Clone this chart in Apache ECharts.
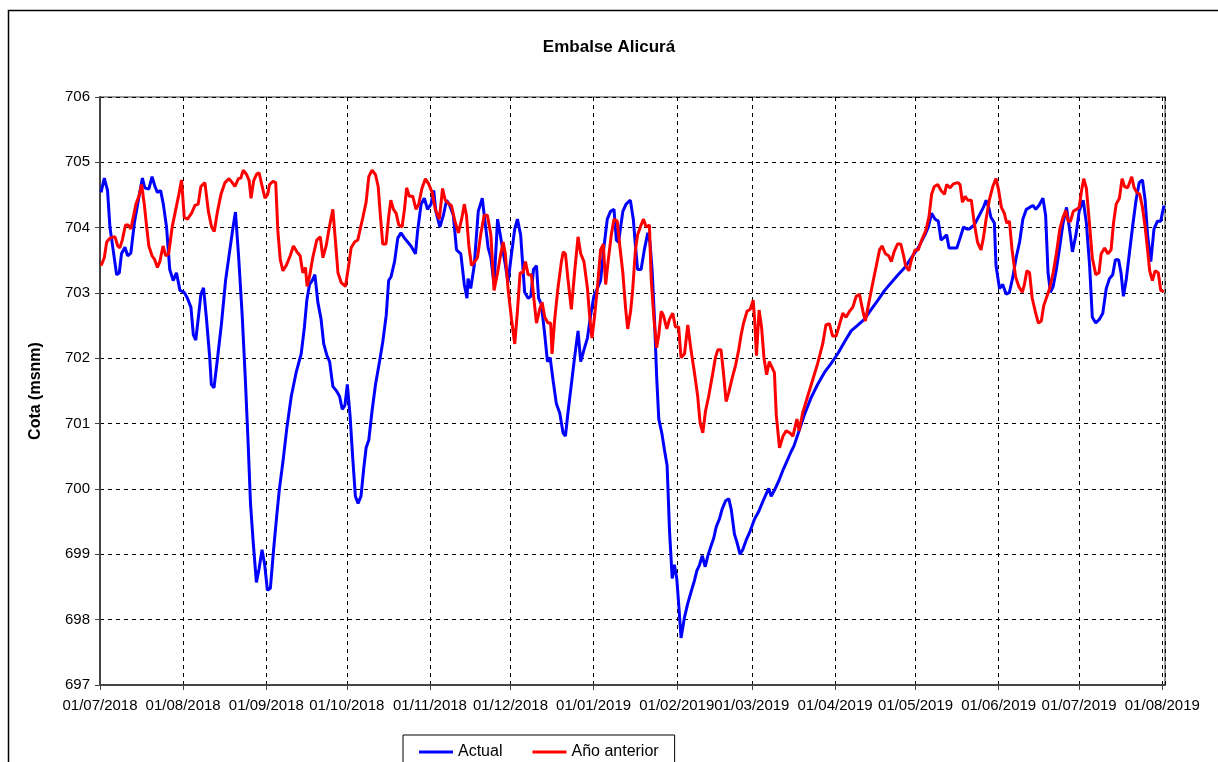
<html>
<head>
  <meta charset="utf-8">
  <title>Embalse Alicurá</title>
</head>
<body style="margin:0;">
<div id="main" style="width:1218px;height:762px;"></div>
<script src="https://cdn.jsdelivr.net/npm/echarts@6/dist/echarts.min.js"></script>
<script>
  // [dia desde 01/07/2018, cota msnm]
  var actual = [
    [0.4,704.54],[1.6,704.76],[2.8,704.57],[3.7,704.01],[4.9,703.66],[6.2,703.28],[7.2,703.31],[8.0,703.6],[9.3,703.70],[10.3,703.57],
    [11.5,703.61],[12.8,704.07],[14.3,704.42],[15.8,704.76],[16.7,704.61],[18.2,704.59],[19.4,704.78],[20.5,704.63],[21.4,704.54],[22.6,704.57],
    [23.6,704.36],[24.8,704.01],[26.0,703.36],[27.3,703.19],[28.5,703.31],[29.8,703.04],[31.4,703.01],[32.6,702.92],[33.9,702.78],[34.8,702.36],
    [35.7,702.28],[36.6,702.6],[37.6,702.98],[38.6,703.08],[39.7,702.6],[40.9,702.01],[41.5,701.6],[42.5,701.55],[44.0,702.07],[45.3,702.54],
    [46.8,703.19],[48.4,703.66],[49.6,704.01],[50.5,704.24],[51.7,703.54],[53.0,702.66],[54.2,701.66],[55.2,700.72],[56.1,699.78],[57.1,699.19],
    [58.3,698.57],[59.3,698.78],[60.4,699.07],[61.4,698.84],[62.4,698.45],[63.5,698.48],
    [64.7,699.07],[65.9,699.6],[66.9,700.01],[68.2,700.42],[69.7,700.95],[71.3,701.42],[73.1,701.78],[75.0,702.07],[76.2,702.48],[77.1,702.89],
    [78.1,703.13],[79.1,703.19],[80.1,703.28],[81.2,702.86],[82.4,702.6],[83.4,702.22],[84.6,702.04],[85.6,701.95],[86.8,701.57],[88.0,701.51],
    [89.3,701.42],[90.3,701.22],[91.3,701.28],[92.2,701.6],[93.2,701.13],[94.2,700.48],[95.2,699.89],[96.2,699.78],[97.3,699.89],[98.3,700.31],
    [99.2,700.63],[100.2,700.75],[101.4,701.19],[102.7,701.6],[104.2,701.95],[105.4,702.25],[106.7,702.66],[107.6,703.19],[108.5,703.25],[109.8,703.48],
    [111.0,703.84],[112.2,703.92],[113.5,703.84],[114.7,703.78],[115.9,703.72],[117.6,703.6],[118.4,703.95],[119.7,704.36],[120.9,704.45],[122.1,704.28],
    [123.4,704.36],[124.4,704.57],[125.2,704.25],[126.7,704.01],[128.0,704.19],[129.2,704.42],[130.2,704.36],
    [131.7,704.19],[132.9,703.66],[134.5,703.6],[135.8,703.13],[136.8,702.92],[137.2,703.22],[138.2,703.07],[139.5,703.42],[141.0,704.25],[142.5,704.45],
    [143.4,704.13],[144.7,703.69],[145.7,703.54],[146.9,703.13],[148.2,704.13],[149.4,703.84],[150.9,703.48],[152.1,703.16],[153.4,703.6],[154.6,703.98],
    [155.6,704.13],[156.8,703.89],[158.3,703.01],[159.6,702.92],[160.6,702.95],[161.6,703.36],[162.7,703.42],[163.5,702.92],[164.5,702.83],[165.8,702.36],
    [166.8,701.95],[167.8,702.01],[168.9,701.66],[170.1,701.31],[171.4,701.16],[172.6,700.86],[173.5,700.81],[174.5,701.19],[175.7,701.6],[176.9,702.01],
    [178.2,702.42],[179.2,701.95],[180.4,702.13],[181.7,702.31],[182.9,702.66],[184.1,702.95],[185.4,703.07],[186.6,703.19],[187.9,703.72],[189.1,704.13],
    [190.3,704.25],[191.6,704.28],[192.5,703.81],[193.3,703.78],
    [194.9,704.25],[196.1,704.36],[197.7,704.42],[198.8,704.13],[199.6,703.72],[200.4,703.36],[201.7,703.36],[202.9,703.66],[204.2,703.92],[205.0,703.78],
    [205.8,703.36],[206.7,702.6],[207.5,701.72],[208.3,701.07],[209.5,700.84],[210.4,700.6],[211.4,700.36],[212.3,699.36],[213.3,698.63],[214.1,698.84],
    [215.0,698.63],[215.7,698.25],[216.6,697.72],[217.9,698.04],[219.1,698.25],[220.3,698.42],[221.6,698.6],[222.5,698.75],[223.5,698.84],[224.5,698.98],
    [225.6,698.81],[226.6,698.98],[227.8,699.13],[228.8,699.25],[229.7,699.42],[230.9,699.54],[231.9,699.69],[233.2,699.82],[234.4,699.85],[235.3,699.69],
    [236.5,699.31],[237.4,699.19],[238.6,699.0],[239.6,699.07],[240.9,699.22],[242.4,699.36],[244.0,699.54],[245.6,699.66],[247.1,699.81],[248.3,699.92],
    [249.3,700.01],[250.2,699.89],[251.4,699.98],[253.1,700.13],[254.5,700.28],[256.0,700.42],[257.6,700.57],
    [258.7,700.66],[260.6,700.89],[262.5,701.13],[265.0,701.39],[267.5,701.6],[270.0,701.78],[272.5,701.92],[275.0,702.07],[277.5,702.25],[280.0,702.42],
    [282.5,702.51],[285.0,702.6],[287.5,702.75],[290.0,702.89],[292.5,703.04],[295.0,703.16],[297.5,703.28],[300.0,703.39],[302.5,703.54],[305.0,703.69],
    [307.5,703.89],[308.8,704.01],[310.0,704.22],[311.3,704.13],[312.5,704.1],[313.5,703.81],[314.4,703.84],[315.6,703.89],[316.5,703.69],[318.1,703.69],
    [319.4,703.69],[320.6,703.84],[321.9,704.01],[323.1,703.98],
    [324.0,703.98],[325.9,704.04],[327.8,704.19],[329.3,704.31],[330.3,704.42],[331.3,704.31],[332.1,704.16],[333.4,704.07],[334.0,703.42],[335.3,703.07],
    [336.5,703.13],[337.8,702.98],[339.0,703.01],[340.3,703.25],[341.5,703.54],[342.8,703.78],[344.0,704.13],[345.3,704.28],[346.5,704.31],[347.8,704.34],
    [348.8,704.28],[350.0,704.34],[351.5,704.45],[352.5,704.19],[353.4,703.31],[354.3,703.01],[355.3,703.1],[356.5,703.36],[357.8,703.72],[359.0,704.07],
    [360.3,704.31],[361.5,703.95],[362.5,703.63],[363.8,703.89],[365.0,704.25],[366.5,704.42],[367.7,704.07],[368.9,703.42],[369.9,702.63],[371.2,702.54],
    [372.6,702.6],[373.8,702.69],[375.1,703.07],[376.3,703.22],[377.5,703.28],[378.5,703.51],[379.7,703.51],[380.6,703.31],[381.5,702.95],[382.5,703.19],
    [383.7,703.6],[384.9,704.01],[386.2,704.42],[387.4,704.69],[388.6,704.73],[389.6,704.42],[390.5,703.89],[391.7,703.48],[392.9,703.98],[394.2,704.1],
    [395.4,704.1],[396.6,704.34]
  ];

  var anioAnterior = [
    [0.4,703.42],[1.6,703.54],[2.5,703.78],[3.7,703.84],[5.6,703.86],[6.6,703.72],[7.4,703.69],[8.3,703.81],[9.5,704.04],[10.5,704.04],
    [11.5,703.98],[12.4,704.16],[13.4,704.36],[14.5,704.48],[15.5,704.66],[16.5,704.36],[17.4,704.01],[18.2,703.72],[19.4,703.57],[20.4,703.51],
    [21.4,703.39],[22.3,703.48],[23.5,703.72],[24.5,703.57],[25.6,703.6],[26.9,704.01],[28.1,704.25],[29.4,704.51],[30.4,704.73],[31.4,704.16],
    [32.6,704.13],[34.1,704.22],[35.4,704.34],[36.6,704.36],[37.6,704.63],[39.1,704.69],[40.4,704.25],[41.6,704.01],[42.6,703.94],[43.8,704.25],
    [45.1,704.51],[46.6,704.69],[48.1,704.75],[49.3,704.69],[50.3,704.63],[51.6,704.75],[52.5,704.76],[53.4,704.88],[54.7,704.81],[55.6,704.72],
    [56.3,704.45],[57.3,704.72],[58.4,704.82],[59.3,704.84],[60.3,704.66],[61.5,704.45],[62.5,704.51],
    [63.2,704.66],[64.5,704.71],[65.5,704.69],[66.3,703.95],[67.2,703.51],[68.2,703.34],[69.4,703.42],[70.9,703.57],[72.1,703.72],[73.4,703.63],
    [74.6,703.57],[75.6,703.31],[76.6,703.39],[77.2,703.1],[78.1,703.25],[79.3,703.54],[80.8,703.81],[82.1,703.86],[83.1,703.54],[84.3,703.72],
    [85.5,704.01],[86.8,704.28],[87.8,703.78],[88.7,703.31],[89.9,703.16],[91.5,703.1],[92.7,703.42],[93.6,703.69],[94.9,703.78],[96.1,703.81],
    [97.0,703.98],[98.0,704.16],[99.2,704.39],[100.2,704.78],[101.4,704.88],[102.7,704.81],[103.7,704.63],[104.5,704.19],[105.4,703.75],[106.6,703.75],
    [107.6,704.16],[108.4,704.42],[109.4,704.28],[110.4,704.22],[111.4,704.04],[112.6,704.01],[113.5,704.28],[114.3,704.61],[115.3,704.48],[116.6,704.48],
    [117.8,704.28],[118.8,704.36],[120.0,704.6],[121.3,704.75],[122.5,704.67],[123.8,704.54],[125.0,704.28],[126.5,704.13],[127.7,704.6],[128.7,704.42],
    [130.2,704.36],
    [131.0,704.34],[132.3,704.1],[133.6,703.92],[134.8,704.13],[135.8,704.36],[136.6,704.19],[137.5,703.72],[138.5,703.42],[139.7,703.48],[140.7,703.54],
    [141.9,703.89],[143.2,704.19],[144.4,704.19],[145.7,703.89],[146.9,703.04],[148.2,703.31],[149.4,703.6],[150.3,703.78],[151.1,703.6],[152.1,703.07],
    [153.4,702.6],[154.6,702.22],[155.6,702.72],[156.6,703.31],[157.7,703.31],[158.6,703.48],[159.6,703.28],[160.8,703.28],[161.8,702.89],[162.7,702.54],
    [163.9,702.75],[164.8,702.86],[165.8,702.63],[167.0,702.54],[168.0,702.54],[168.5,702.07],[169.5,702.6],[170.7,703.07],[172.0,703.48],[172.7,703.63],
    [173.5,703.6],[174.5,703.19],[175.7,702.75],[176.9,703.31],[178.2,703.86],[179.2,703.6],[180.4,703.48],[181.7,703.07],[182.5,702.66],[183.4,702.31],
    [184.4,702.66],[185.4,703.07],[186.6,703.66],[187.6,703.75],[188.5,703.13],[189.4,703.48],[190.6,703.89],[191.6,704.13],[192.8,704.1],
    [193.6,703.78],[194.9,703.31],[195.9,702.78],[196.7,702.45],[197.8,702.72],[198.6,703.07],[199.6,703.66],[200.4,703.89],[201.7,704.04],[202.6,704.13],
    [203.6,704.01],[204.8,704.04],[205.5,703.19],[206.5,702.6],[207.5,702.16],[208.3,702.36],[209.2,702.72],[210.0,702.66],[211.3,702.45],[212.3,702.6],
    [213.5,702.69],[214.5,702.48],[215.7,702.48],[216.6,702.01],[217.9,702.07],[219.1,702.51],[220.3,702.13],[221.6,701.78],[222.8,701.42],[223.7,701.01],
    [224.7,700.86],[225.7,701.19],[226.9,701.42],[228.2,701.72],[229.4,702.01],[230.3,702.13],[231.5,702.13],[232.4,701.78],[233.4,701.34],[234.4,701.48],
    [235.6,701.69],[236.9,701.89],[238.1,702.13],[239.0,702.36],[239.9,702.54],[241.2,702.72],[242.4,702.75],[243.5,702.89],[244.1,702.54],[244.7,702.04],
    [245.7,702.74],[246.6,702.48],[247.5,702.01],[248.5,701.75],[249.5,701.95],[250.2,701.98],[251.4,701.78],[252.1,701.13],[253.3,700.63],[254.6,700.81],
    [255.8,700.89],[257.1,700.86],[258.3,700.81],
    [259.8,701.07],[260.6,700.89],[261.9,701.16],[263.8,701.42],[265.6,701.66],[267.5,701.92],[269.4,702.22],[270.6,702.51],[271.9,702.53],[273.1,702.34],
    [274.4,702.34],[275.6,702.51],[276.9,702.69],[278.1,702.63],[279.4,702.72],[280.6,702.78],[281.9,702.95],[283.1,702.98],[284.4,702.72],[285.3,702.57],
    [286.5,702.83],[288.1,703.16],[289.4,703.42],[290.6,703.66],[291.5,703.72],[292.8,703.6],[294.0,703.57],[295.0,703.48],[296.0,703.63],[297.3,703.75],
    [298.5,703.75],[299.4,703.6],[300.3,703.42],[301.5,703.34],[302.5,703.51],[303.8,703.66],[305.0,703.66],[306.3,703.81],[307.8,703.95],[309.0,704.16],
    [310.0,704.51],[311.0,704.63],[312.3,704.66],[313.5,704.57],[314.8,704.51],[315.6,704.66],[316.9,704.61],[318.1,704.67],[319.8,704.69],[320.6,704.66],
    [321.5,704.39],[322.5,704.48],[323.5,704.42],[324.8,704.42],
    [325.9,704.07],[327.1,703.78],[328.4,703.66],[329.3,703.84],[330.3,704.13],[331.5,704.42],[332.8,704.63],[334.0,704.75],[335.0,704.57],[336.0,704.31],
    [337.1,704.22],[338.0,704.07],[339.0,704.1],[340.0,703.66],[341.3,703.25],[342.5,703.1],[343.8,703.01],[344.6,703.13],[345.5,703.34],[346.5,703.31],
    [347.5,702.92],[348.8,702.69],[349.8,702.54],[350.9,702.57],[351.8,702.81],[353.0,702.95],[354.0,703.07],[355.3,703.31],[356.5,703.6],[357.8,703.98],
    [359.0,704.16],[360.0,704.26],[360.9,704.1],[361.8,704.1],[362.8,704.25],[364.0,704.28],[365.0,704.31],[365.9,704.57],[366.7,704.75],[367.7,704.6],
    [368.7,704.13],[369.9,703.54],[371.2,703.28],[372.4,703.31],[373.2,703.6],[374.5,703.69],[375.7,703.6],[376.9,703.66],[377.8,704.07],[378.8,704.36],
    [380.0,704.45],[381.0,704.75],[381.9,704.63],[383.1,704.61],[383.7,704.59],[384.6,704.78],[385.5,704.61],[386.5,704.54],[387.6,704.51],[388.6,704.31],
    [389.6,704.01],[390.5,703.66],[391.3,703.34],[392.3,703.19],[393.3,703.34],[394.5,703.31],[395.4,703.04],[396.6,703.02]
  ];

  var DIA = 86400000;
  var inicio = new Date(2018, 6, 1).getTime();
  var fin = inicio + 397 * DIA;

  function aFecha(serie) {
    return serie.map(function (p) { return [inicio + p[0] * DIA, p[1]]; });
  }
  function dosDig(n) { return (n < 10 ? '0' : '') + n; }

  var fuente = "'Liberation Sans', Arial, sans-serif";
  var myChart = echarts.init(document.getElementById('main'));
  myChart.setOption({
    animation: false,
    backgroundColor: '#fff',
    textStyle: { fontFamily: fuente },
    graphic: [{
      type: 'rect',
      shape: { x: 8.5, y: 10.5, width: 1240, height: 800 },
      style: { fill: 'none', stroke: '#000', lineWidth: 1.5 },
      silent: true
    }],
    title: {
      text: 'Embalse Alicurá',
      left: 'center',
      top: 34,
      textStyle: { fontFamily: fuente, fontSize: 17, fontWeight: 'bold', color: '#000' }
    },
    legend: {
      left: 403,
      top: 735,
      data: [
        { name: 'Actual', icon: 'rect' },
        { name: 'Año anterior', icon: 'rect' }
      ],
      itemWidth: 34,
      itemHeight: 3,
      itemGap: 30,
      padding: [9, 16, 30, 16],
      borderColor: '#000',
      borderWidth: 1,
      textStyle: { fontFamily: fuente, fontSize: 16, color: '#000' }
    },
    grid: {
      left: 100, right: 53, top: 97, bottom: 77,
      show: true,
      borderColor: '#999',
      borderWidth: 2
    },
    xAxis: {
      type: 'time',
      min: inicio,
      max: fin,
      minInterval: 28 * DIA,
      maxInterval: 31 * DIA,
      axisLine: { show: true, lineStyle: { color: '#444', width: 2 } },
      axisTick: { show: true, length: 5, lineStyle: { color: '#444' } },
      splitLine: { show: true, lineStyle: { color: '#000', type: [4, 4], width: 1 } },
      axisLabel: {
        color: '#000',
        fontSize: 15,
        margin: 13,
        hideOverlap: false,
        showMinLabel: true,
        showMaxLabel: false,
        formatter: function (v) {
          var d = new Date(v);
          return dosDig(d.getDate()) + '/' + dosDig(d.getMonth() + 1) + '/' + d.getFullYear();
        }
      }
    },
    yAxis: {
      type: 'value',
      min: 697,
      max: 706,
      interval: 1,
      name: 'Cota (msnm)',
      nameLocation: 'middle',
      nameGap: 56,
      nameTextStyle: { fontFamily: fuente, fontSize: 16, fontWeight: 'bold', color: '#000' },
      axisLine: { show: true, lineStyle: { color: '#444', width: 2 } },
      axisTick: { show: true, length: 5, lineStyle: { color: '#444' } },
      splitLine: { show: true, lineStyle: { color: '#000', type: [4, 4], width: 1 } },
      axisLabel: { color: '#000', fontSize: 15, margin: 10 }
    },
    series: [
      {
        name: 'Actual',
        type: 'line',
        showSymbol: false,
        data: aFecha(actual),
        itemStyle: { color: '#0000ff' },
        lineStyle: { color: '#0000ff', width: 3 },
        z: 3
      },
      {
        name: 'Año anterior',
        type: 'line',
        showSymbol: false,
        data: aFecha(anioAnterior),
        itemStyle: { color: '#ff0000' },
        lineStyle: { color: '#ff0000', width: 3 },
        z: 4
      }
    ]
  });
</script>
</body>
</html>
